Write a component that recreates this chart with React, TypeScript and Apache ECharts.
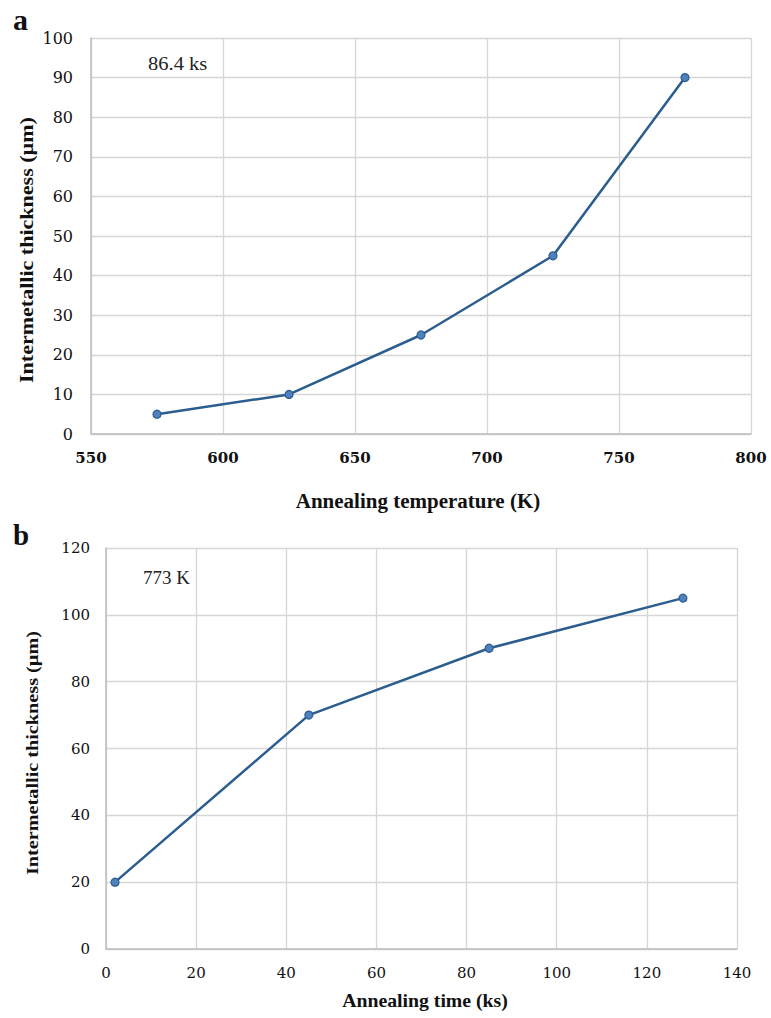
import React, { useEffect, useRef } from "react";
import * as echarts from "echarts";

// Panel a: thickness vs annealing temperature (86.4 ks)
const tempK = [575, 625, 675, 725, 775];
const thicknessA = [5, 10, 25, 45, 90];
// Panel b: thickness vs annealing time (773 K)
const timeKs = [2, 45, 85, 128];
const thicknessB = [20, 70, 90, 105];

const xTitleA = "Annealing temperature (K)";
const xTitleB = "Annealing time (ks)";
const yTitle = "Intermetallic thickness (\u00b5m)";
const noteA = "86.4 ks";
const noteB = "773 K";

const SERIF = "Liberation Serif, serif";
const TICK_FONT = "DejaVu Serif";
const LINE = "#2c5d8f";
const MARK = "#4f81bd";
const GRID = "#d6d6d6";
const AXIS = "#bdbdbd";

export default function App() {
  const ref = useRef<HTMLDivElement>(null);
  useEffect(() => {
    if (!ref.current) return;
    const chart = echarts.init(ref.current, undefined, { renderer: "svg" });
    const axisCommon = {
      axisTick: { show: false },
      axisLine: { show: true, lineStyle: { color: AXIS, width: 1.5 } },
      splitLine: { show: true, lineStyle: { color: GRID, width: 1.3 } },
    };
    const label = (margin: number, size: number, weight: string) => ({
      margin,
      fontFamily: TICK_FONT,
      fontSize: size,
      fontWeight: weight,
      color: "#111",
    });
    const lineSeries = (xi: number, xs: number[], ys: number[]) => ({
      type: "line",
      xAxisIndex: xi,
      yAxisIndex: xi,
      data: xs.map((x, i) => [x, ys[i]]),
      symbol: "circle",
      symbolSize: 8,
      lineStyle: { color: LINE, width: 2.5 },
      itemStyle: { color: MARK, borderColor: LINE, borderWidth: 1.2 },
    });
    chart.setOption({
      animation: false,
      backgroundColor: "#ffffff",
      grid: [
        { left: 91, top: 38, width: 660, height: 396 },
        { left: 106, top: 548, width: 631, height: 401 },
      ],
      xAxis: [
        {
          ...axisCommon,
          type: "value",
          gridIndex: 0,
          min: 550,
          max: 800,
          interval: 50,
          axisLabel: label(16, 15, "bold"),
        },
        {
          ...axisCommon,
          type: "value",
          gridIndex: 1,
          min: 0,
          max: 140,
          interval: 20,
          axisLabel: label(16, 15, "normal"),
        },
      ],
      yAxis: [
        {
          ...axisCommon,
          type: "value",
          gridIndex: 0,
          min: 0,
          max: 100,
          interval: 10,
          axisLabel: label(18, 16, "normal"),
        },
        {
          ...axisCommon,
          type: "value",
          gridIndex: 1,
          min: 0,
          max: 120,
          interval: 20,
          axisLabel: label(16, 15, "normal"),
        },
      ],
      series: [lineSeries(0, tempK, thicknessA), lineSeries(1, timeKs, thicknessB)],
      graphic: [
        {
          type: "text",
          x: 13,
          y: 19,
          style: { text: "a", font: `bold 30px ${SERIF}`, fill: "#111", textAlign: "left", textVerticalAlign: "middle" },
        },
        {
          type: "text",
          x: 13,
          y: 535,
          style: { text: "b", font: `bold 29px ${SERIF}`, fill: "#111", textAlign: "left", textVerticalAlign: "middle" },
        },
        {
          type: "text",
          x: 148,
          y: 63,
          scaleX: 1.08,
          style: { text: noteA, font: `19px ${SERIF}`, fill: "#222", textAlign: "left", textVerticalAlign: "middle" },
        },
        {
          type: "text",
          x: 143,
          y: 577,
          style: { text: noteB, font: `19px ${SERIF}`, fill: "#222", textAlign: "left", textVerticalAlign: "middle" },
        },
        {
          type: "text",
          x: 418,
          y: 501,
          scaleX: 1.05,
          style: { text: xTitleA, font: `bold 20px ${SERIF}`, fill: "#111", textAlign: "center", textVerticalAlign: "middle" },
        },
        {
          type: "text",
          x: 425,
          y: 1001,
          scaleX: 1.04,
          style: { text: xTitleB, font: `bold 19px ${SERIF}`, fill: "#111", textAlign: "center", textVerticalAlign: "middle" },
        },
        {
          type: "text",
          x: 27,
          y: 250,
          rotation: Math.PI / 2,
          scaleX: 1.16,
          style: { text: yTitle, font: `bold 19px ${SERIF}`, fill: "#111", textAlign: "center", textVerticalAlign: "middle" },
        },
        {
          type: "text",
          x: 32,
          y: 753,
          rotation: Math.PI / 2,
          scaleX: 1.19,
          style: { text: yTitle, font: `bold 17px ${SERIF}`, fill: "#111", textAlign: "center", textVerticalAlign: "middle" },
        },
      ],
    });
    return () => chart.dispose();
  }, []);
  return (
    <div
      ref={ref}
      style={{ position: "absolute", left: 0, top: 0, width: 771, height: 1018, background: "#fff" }}
    />
  );
}
